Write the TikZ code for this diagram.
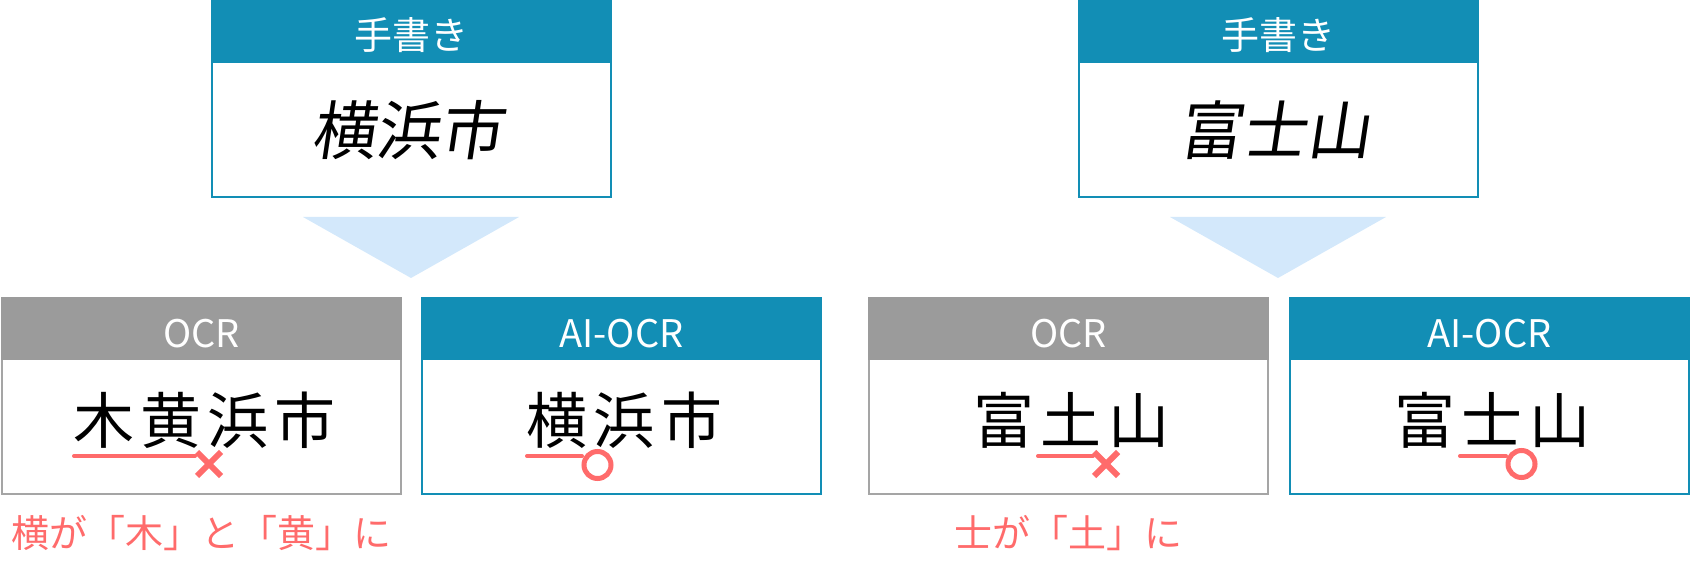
\documentclass[tikz,border=0pt]{standalone}
\usepackage{fontspec}
\setmainfont{Noto Sans CJK JP}
\newfontfamily\ocrwide{Noto Sans CJK JP}[LetterSpace=10]
\usetikzlibrary{calc,positioning}
\definecolor{ocBlue}{HTML}{128EB5}
\definecolor{ocGray}{HTML}{9B9B9B}
\definecolor{ocGrayLine}{HTML}{A5A5A5}
\definecolor{ocRed}{HTML}{FF6B6B}
\definecolor{ocArrow}{HTML}{D3E8FB}
\tikzset{
  card/.style={rectangle, fill=white, line width=1pt, minimum width=199.5pt,
    minimum height=98pt, inner sep=0pt},
  blueCard/.style={card, draw=ocBlue},
  grayCard/.style={card, draw=ocGrayLine},
  headBar/.style={rectangle, anchor=north, minimum width=200.5pt,
    minimum height=31.5pt, inner sep=0pt, outer sep=0pt},
  headText/.style={anchor=base, inner sep=0pt, text=white,
    font=\fontsize{19}{19}\selectfont},
  handText/.style={inner sep=0pt, text=black, xslant=0.15, transform shape,
    font=\fontsize{32}{32}\selectfont},
  resultText/.style={anchor=base, inner sep=0pt, text=black,
    font=\ocrwide\fontsize{30.5}{30.5}\selectfont},
  noteText/.style={anchor=base, inner sep=0pt, text=ocRed,
    font=\fontsize{19}{19}\selectfont},
  markLine/.style={ocRed, line width=2pt, line cap=round},
  crossMark/.style={ocRed, line width=3pt},
  okMark/.style={ocRed, line width=2.5pt},
  flowTri/.style={fill=ocArrow},
}
\newcommand{\flowtri}[1]{%
  \fill[flowTri] ($(#1.south)+(-108,19)$) -- ($(#1.south)+(108,19)$)
    -- ($(#1.south)+(0,80)$) -- cycle;
}
\newcommand{\crossat}[1]{%
  \draw[crossMark] ($(#1)+(-12,-12)$) -- ($(#1)+(12,12)$);
  \draw[crossMark] ($(#1)+(-12,12)$) -- ($(#1)+(12,-12)$);
}

\begin{document}
\begin{tikzpicture}[x=0.5pt,y=-0.5pt]
  \useasboundingbox (0,0) rectangle (1691,588);

  % Handwritten samples.
  \node[blueCard] (hwL) at (411,99) {};
  \node[headBar, fill=ocBlue] (hwLhead) at (hwL.north) {};
  \node[headText] (hwLtitle) at ([yshift=6.5pt]hwLhead.south) {手書き};
  \node[handText] (hwLink) at ([yshift=-15.5pt]hwL.center) {横浜市};
  \flowtri{hwL}

  \node[blueCard] (hwR) at (1278,99) {};
  \node[headBar, fill=ocBlue] (hwRhead) at (hwR.north) {};
  \node[headText] (hwRtitle) at ([yshift=6.5pt]hwRhead.south) {手書き};
  \node[handText] (hwRink) at ([yshift=-15.5pt]hwR.center) {富士山};
  \flowtri{hwR}

  % Recognition results, left pair.
  \node[grayCard] (ocrL) at (201.5,396) {};
  \node[headBar, fill=ocGray] (ocrLhead) at (ocrL.north) {};
  \node[headText] (ocrLtitle) at ([yshift=6.5pt]ocrLhead.south) {OCR};
  \node[resultText] (ocrLtext) at ([xshift=1.5pt,yshift=-23.5pt]ocrL.center)
    {木黄浜市};
  \node[noteText] (ocrLnote) at ([yshift=-26pt]ocrL.south)
    {横が「木」と「黄」に};
  \coordinate (ocrLmark) at (209,464);
  \draw[markLine] (74,456) -- (195,456);
  \crossat{ocrLmark}

  \node[blueCard] (aiL) at (621.5,396) {};
  \node[headBar, fill=ocBlue] (aiLhead) at (aiL.north) {};
  \node[headText] (aiLtitle) at ([yshift=6.5pt]aiLhead.south) {AI-OCR};
  \node[resultText] (aiLtext) at ([xshift=1.5pt,yshift=-23.5pt]aiL.center)
    {横浜市};
  \coordinate (aiLmark) at (597.5,465);
  \draw[markLine] (527,456) -- (582,456);
  \draw[okMark] (aiLmark) circle (6.75pt);

  % Recognition results, right pair.
  \node[grayCard] (ocrR) at (1068.5,396) {};
  \node[headBar, fill=ocGray] (ocrRhead) at (ocrR.north) {};
  \node[headText] (ocrRtitle) at ([yshift=6.5pt]ocrRhead.south) {OCR};
  \node[resultText] (ocrRtext) at ([xshift=1.5pt,yshift=-23.5pt]ocrR.center)
    {富土山};
  \node[noteText] (ocrRnote) at ([yshift=-26pt]ocrR.south) {士が「土」に};
  \coordinate (ocrRmark) at (1106,464);
  \draw[markLine] (1038,456) -- (1093,456);
  \crossat{ocrRmark}

  \node[blueCard] (aiR) at (1489.5,396) {};
  \node[headBar, fill=ocBlue] (aiRhead) at (aiR.north) {};
  \node[headText] (aiRtitle) at ([yshift=6.5pt]aiRhead.south) {AI-OCR};
  \node[resultText] (aiRtext) at ([xshift=1.5pt,yshift=-23.5pt]aiR.center)
    {富士山};
  \coordinate (aiRmark) at (1521.5,464);
  \draw[markLine] (1460,456) -- (1506,456);
  \draw[okMark] (aiRmark) circle (6.75pt);
\end{tikzpicture}
\end{document}
